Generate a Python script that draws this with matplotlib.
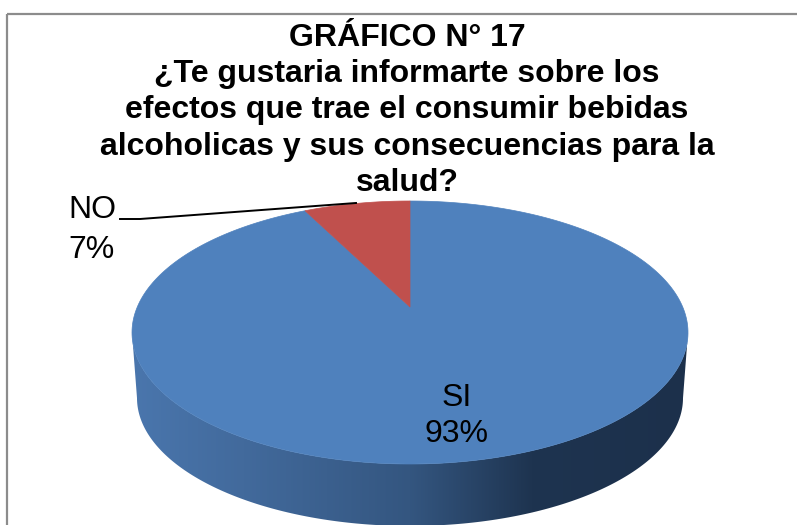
import numpy as np
import matplotlib
matplotlib.use('Agg')
import matplotlib.pyplot as plt
from matplotlib.patches import Polygon, Rectangle
from matplotlib.colors import LinearSegmentedColormap

plt.rcParams['font.family'] = ['Liberation Sans', 'DejaVu Sans']

labels = ['SI', 'NO']
shares = [93, 7]
colors = ['#4f81bd', '#c0504d']
title = ('GRÁFICO N° 17\n¿Te gustaria informarte sobre los\n'
         'efectos que trae el consumir bebidas\n'
         'alcoholicas y sus consecuencias para la\nsalud?')

# pie geometry in picture pixels
cx, cy, rx, ry = 410, 332.5, 278, 131.5
apex_y = 307
cx2, cy2, rx2, ry2 = 410, 398, 273, 128
persp = 0.88  # the tilted pie squeezes the angle at the back


def rim(t, x0=cx, y0=cy, a=rx, b=ry):
    # t in degrees, clockwise from the top of the ellipse
    t = np.radians(t)
    return np.column_stack([x0 + a * np.sin(t), y0 - b * np.cos(t)])


fig = plt.figure(figsize=(7.97, 5.25), dpi=100)
ax = fig.add_axes([0, 0, 1, 1])
ax.set_xlim(0, 797)
ax.set_ylim(525, 0)
ax.axis('off')

# chart frame, only top and left fall inside the picture
ax.add_patch(Rectangle((7.5, 13.5), 830, 530, fill=False, ec='#8c8c8c', lw=1.6, clip_on=True))

# side wall, horizontal shading
t = np.linspace(90, 270, 200)
side = Polygon(np.vstack([rim(t), rim(t[::-1], cx2, cy2, rx2, ry2)]), closed=True,
               fc='none', ec='none')
ax.add_patch(side)
cmap = LinearSegmentedColormap.from_list('side', [(0, '#4a76ad'), (0.2, '#426a9c'), (0.5, '#345680'),
                                                  (0.72, '#1e3450'), (1, '#1c304b')])
im = ax.imshow(np.linspace(0, 1, 256)[None, :], extent=(132, 688, 530, 300), cmap=cmap,
               aspect='auto', zorder=1)
im.set_clip_path(side)
ax.set_xlim(0, 797)
ax.set_ylim(525, 0)

# top face, slices start at 12 o'clock going clockwise (SI first)
no_angle = shares[1] / sum(shares) * 360 * persp
t_si = np.linspace(0, 360 - no_angle, 300)
t_no = np.linspace(360 - no_angle, 360, 40)
ax.add_patch(Polygon(np.vstack([[[cx, apex_y]], rim(t_si)]), closed=True, fc=colors[0], ec=colors[0],
                     lw=0.5, zorder=2))
ax.add_patch(Polygon(np.vstack([[[cx, apex_y]], rim(t_no)]), closed=True, fc=colors[1], ec=colors[1],
                     lw=0.5, zorder=3))

# labels
ax.text(407, 23, title, fontsize=23, fontweight='bold', ha='center', va='top', linespacing=1.27,
        color='black', zorder=5)
ax.text(92, 230, '%s\n%d%%' % (labels[1], shares[1]), fontsize=23, ha='center', va='center',
        linespacing=1.46, zorder=5)
ax.text(457, 416, '%s\n%d%%' % (labels[0], shares[0]), fontsize=23, ha='center', va='center',
        linespacing=1.29, zorder=5)

# leader line for NO
ax.plot([120, 140, 356], [219, 219, 203], color='black', lw=1.4, zorder=4)

fig.savefig('out.png', dpi=100)
